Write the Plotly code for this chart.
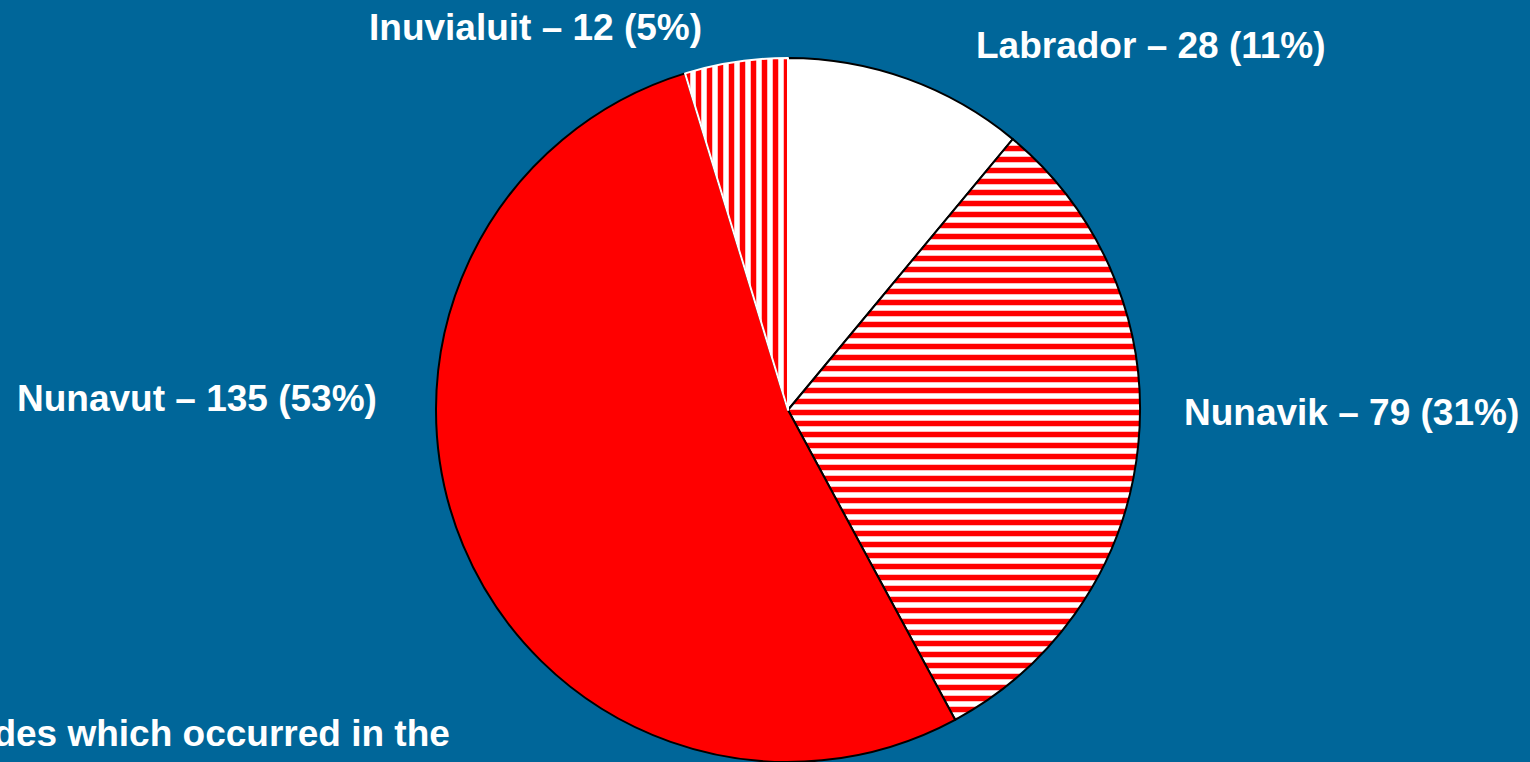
import plotly.graph_objects as go

regions = ["Labrador", "Nunavik", "Nunavut", "Inuvialuit"]
counts = [28, 79, 135, 12]
percents = [11, 31, 53, 5]
label_x = [1151, 1351, 197, 535]   # label centres, px
label_y = [45, 412, 398, 28]

W, H = 1530, 762
cx, cy, r = 788, 410, 352

fig = go.Figure(go.Pie(
    labels=regions,
    values=counts,
    sort=False,
    direction="clockwise",
    rotation=0,
    textinfo="none",
    hoverinfo="label+value+percent",
    marker=dict(
        colors=["white", "white", "#ff0000", "white"],
        pattern=dict(
            shape=["", "-", "", "|"],
            fgcolor="#ff0000",
            fgopacity=1,
            bgcolor="white",
            size=11,
            solidity=0.5,
            fillmode="overlay",
        ),
        line=dict(color=["black", "black", "black", "white"], width=2),
    ),
    domain=dict(x=[(cx - r) / W, (cx + r) / W], y=[(H - cy - r) / H, (H - cy + r) / H]),
    showlegend=False,
))

annotations = []
for reg, c, p, x, y in zip(regions, counts, percents, label_x, label_y):
    annotations.append(dict(
        text=f"<b>{reg} – {c} ({p}%)</b>",
        x=x / W, y=1 - y / H, xref="paper", yref="paper",
        xanchor="center", yanchor="middle", showarrow=False,
        font=dict(family="Liberation Sans, Arial", size=37, color="white"),
    ))
annotations.append(dict(
    text="<b>Suicides which occurred in the</b>",
    x=452 / W, y=1 - 733 / H, xref="paper", yref="paper",
    xanchor="right", yanchor="middle", showarrow=False,
    font=dict(family="Liberation Sans, Arial", size=37, color="white"),
))

fig.update_layout(
    width=W, height=H,
    margin=dict(l=0, r=0, t=0, b=0),
    paper_bgcolor="#006699",
    plot_bgcolor="#006699",
    annotations=annotations,
)

fig.write_html(
    "out.html",
    config={"displayModeBar": False},
    post_script="document.body.style.margin='0';document.body.style.overflow='hidden';document.body.style.background='#006699';",
)
